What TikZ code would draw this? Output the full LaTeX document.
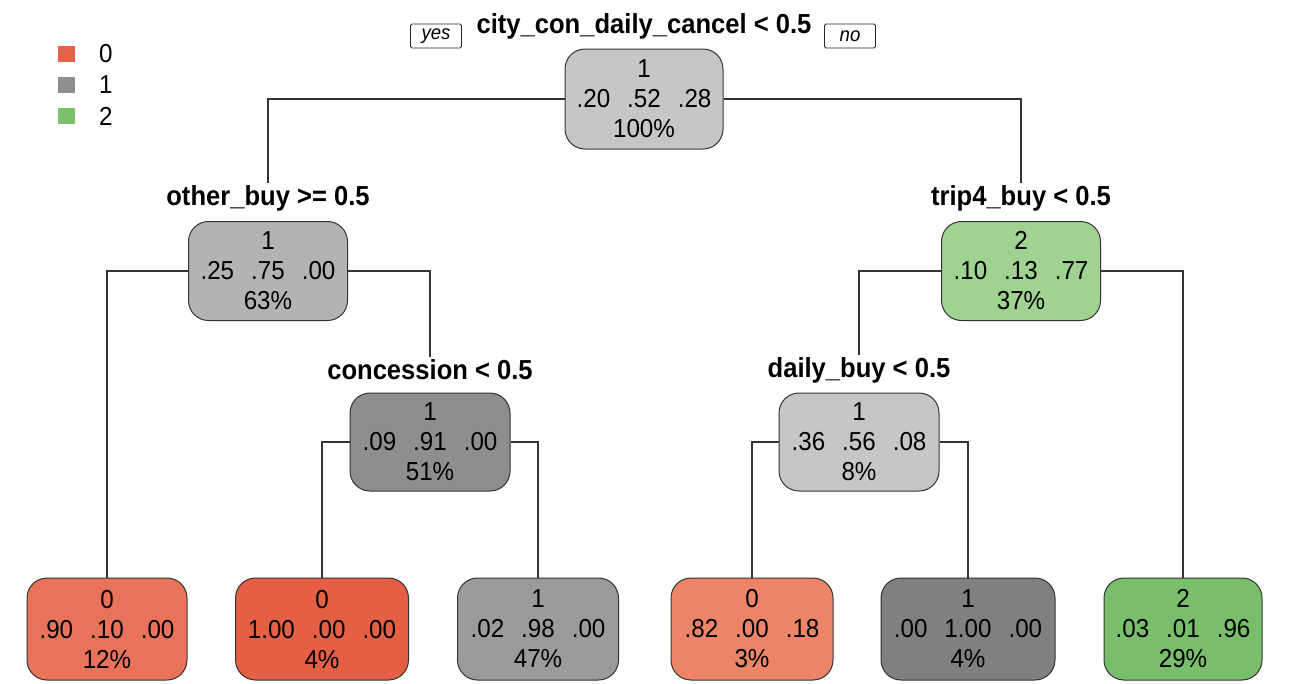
\documentclass[tikz,border=0pt]{standalone}
\usepackage{fontspec}
\setmainfont{Liberation Sans}[FakeStretch=0.93]
\begin{document}
\begin{tikzpicture}[x=1pt,y=-1pt,
  tbox/.style={draw=black!80, line width=1pt, rounded corners=20pt, align=center,
    minimum height=100pt, inner sep=0pt, font=\fontsize{26}{30}\selectfont},
  splitlab/.style={font=\bfseries\fontsize{27.5}{30}\selectfont, anchor=base, inner sep=2pt},
  conn/.style={draw=black!80, line width=1.1pt},
  yn/.style={draw=black!85, line width=0.8pt, rounded corners=1.5pt, font=\itshape\fontsize{20}{20}\selectfont,
    minimum width=51pt, minimum height=24pt, inner sep=1pt},
  legsq/.style={minimum width=17pt, minimum height=16pt, inner sep=0pt},
  legtx/.style={font=\fontsize{26}{30}\selectfont, anchor=west, inner sep=0pt}]
\newcommand\gp{\hspace{17pt}}
\definecolor{croot}{HTML}{C6C6C6}
\definecolor{cla}{HTML}{B3B3B3}
\definecolor{clb}{HTML}{8E8E8E}
\definecolor{cra}{HTML}{A0D292}
\definecolor{crb}{HTML}{C6C6C6}
\definecolor{cfa}{HTML}{E8735A}
\definecolor{cfb}{HTML}{E55F45}
\definecolor{cfc}{HTML}{9B9B9B}
\definecolor{cfd}{HTML}{EC8567}
\definecolor{cfe}{HTML}{808080}
\definecolor{cff}{HTML}{78BE6B}
\definecolor{lgr}{HTML}{E8604A}
\definecolor{lgg}{HTML}{8E8E8E}
\definecolor{lgn}{HTML}{7CC16D}
\useasboundingbox[fill=white] (0,0) rectangle (1300,683);

% legend
\node[legsq, fill=lgr] (sq0) at (66,54) {};
\node[legsq, fill=lgg] (sq1) at (66,85) {};
\node[legsq, fill=lgn] (sq2) at (66,116) {};
\node[legtx] (lt0) at (99,54) {0};
\node[legtx] (lt1) at (99,85) {1};
\node[legtx] (lt2) at (99,116) {2};

% split labels
\node[splitlab] (lab0) at (644,33) {city\_con\_daily\_cancel < 0.5};
\node[yn] (yes) at (436,36) {yes};
\node[yn] (no) at (850,36) {no};
\node[splitlab] (lab1) at (268,205) {other\_buy >= 0.5};
\node[splitlab] (lab2) at (430,379) {concession < 0.5};
\node[splitlab] (lab3) at (1021,205) {trip4\_buy < 0.5};
\node[splitlab] (lab4) at (859,377) {daily\_buy < 0.5};

% internal nodes
\node[tbox, fill=croot, minimum width=158pt] (root) at (644,99) {1\\.20\gp.52\gp.28\\100\%};
\node[tbox, fill=cla, minimum width=159pt, minimum height=99pt] (L1) at (268,271) {1\\.25\gp.75\gp.00\\63\%};
\node[tbox, fill=clb, minimum width=160pt, minimum height=98pt] (L2) at (430,442) {1\\.09\gp.91\gp.00\\51\%};
\node[tbox, fill=cra, minimum width=159pt, minimum height=99pt] (R1) at (1021,271) {2\\.10\gp.13\gp.77\\37\%};
\node[tbox, fill=crb, minimum width=160pt, minimum height=98pt] (R2) at (859,442) {1\\.36\gp.56\gp.08\\8\%};

% leaves
\node[tbox, fill=cfa, minimum width=160pt, minimum height=102pt] (F1) at (107,629) {0\\.90\gp.10\gp.00\\12\%};
\node[tbox, fill=cfb, minimum width=173pt, minimum height=102pt] (F2) at (322,629) {0\\1.00\gp.00\gp.00\\4\%};
\node[tbox, fill=cfc, minimum width=161pt, minimum height=102pt] (F3) at (538,629) {1\\.02\gp.98\gp.00\\47\%};
\node[tbox, fill=cfd, minimum width=162pt, minimum height=102pt] (F4) at (752,629) {0\\.82\gp.00\gp.18\\3\%};
\node[tbox, fill=cfe, minimum width=174pt, minimum height=102pt] (F5) at (968,629) {1\\.00\gp1.00\gp.00\\4\%};
\node[tbox, fill=cff, minimum width=158pt, minimum height=102pt] (F6) at (1183,629) {2\\.03\gp.01\gp.96\\29\%};

% connectors
\draw[conn] (root.west) -| (lab1.north);
\draw[conn] (root.east) -| (lab3.north);
\draw[conn] (L1.west) -| (F1.north);
\draw[conn] (L1.east) -| (lab2.north);
\draw[conn] (L2.west) -| (F2.north);
\draw[conn] (L2.east) -| (F3.north);
\draw[conn] (R1.west) -| (lab4.north);
\draw[conn] (R1.east) -| (F6.north);
\draw[conn] (R2.west) -| (F4.north);
\draw[conn] (R2.east) -| (F5.north);
\end{tikzpicture}
\end{document}
